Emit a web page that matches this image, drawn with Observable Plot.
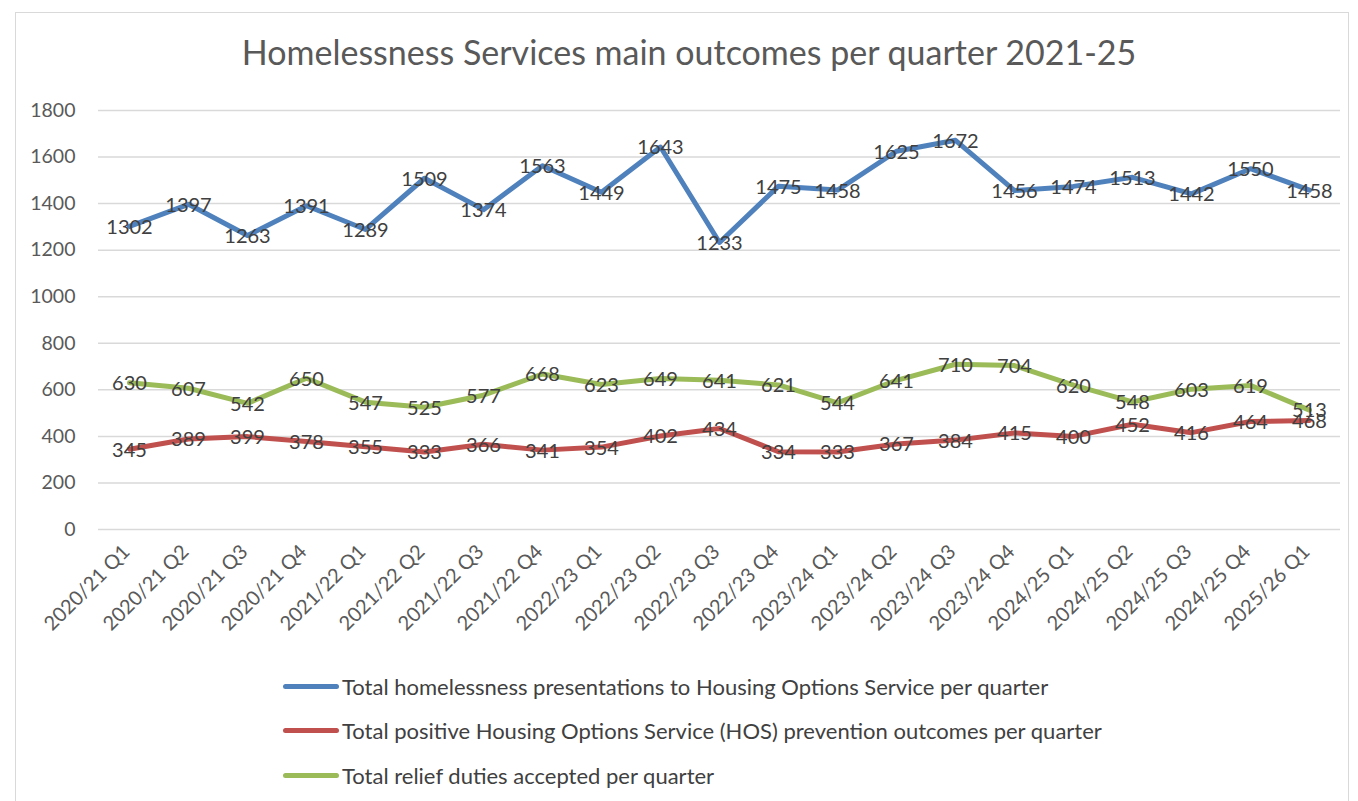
<!DOCTYPE html>
<html>
<head>
<meta charset="utf-8">
<script src="https://cdn.jsdelivr.net/npm/d3@7"></script>
<script src="https://cdn.jsdelivr.net/npm/@observablehq/plot@0.6"></script>
<style>
  html, body { margin: 0; padding: 0; background: #fff; }
  body { width: 1358px; height: 801px; position: relative; overflow: hidden; font-family: Lato, "Open Sans", sans-serif; }
  #frame { position: absolute; left: 15px; top: 12px; width: 1334px; height: 800px; border: 1px solid #d9d9d9; box-sizing: border-box; }
  #title { position: absolute; left: 0; top: 32px; width: 1378px; text-align: center; font-size: 34px; color: #595959; line-height: 40px; }
  #chart { position: absolute; left: 0; top: 85px; }
  #legend { position: absolute; left: 283px; top: 664px; }
  .item { display: flex; align-items: center; height: 44.5px; font-size: 22px; color: #404040; }
  .sw { width: 56px; height: 5px; border-radius: 3px; margin-right: 3px; }
</style>
</head>
<body>
<div id="frame"></div>
<div id="title">Homelessness Services main outcomes per quarter 2021-25</div>
<div id="chart"></div>
<div id="legend"></div>
<script>
const quarters = ["2020/21 Q1","2020/21 Q2","2020/21 Q3","2020/21 Q4","2021/22 Q1","2021/22 Q2","2021/22 Q3","2021/22 Q4","2022/23 Q1","2022/23 Q2","2022/23 Q3","2022/23 Q4","2023/24 Q1","2023/24 Q2","2023/24 Q3","2023/24 Q4","2024/25 Q1","2024/25 Q2","2024/25 Q3","2024/25 Q4","2025/26 Q1"];
const presentations = [1302,1397,1263,1391,1289,1509,1374,1563,1449,1643,1233,1475,1458,1625,1672,1456,1474,1513,1442,1550,1458];
const prevention = [345,389,399,378,355,333,366,341,354,402,434,334,333,367,384,415,400,452,416,464,468];
const relief = [630,607,542,650,547,525,577,668,623,649,641,621,544,641,710,704,620,548,603,619,513];
const seriesNames = [
  "Total homelessness presentations to Housing Options Service per quarter",
  "Total positive Housing Options Service (HOS) prevention outcomes per quarter",
  "Total relief duties accepted per quarter"
];
const seriesColors = ["#4F81BD", "#C0504D", "#9BBB59"];
const yTicks = [0,200,400,600,800,1000,1200,1400,1600,1800];

const seriesValues = [presentations, prevention, relief];
const rows = [];
seriesValues.forEach((vals, si) => vals.forEach((v, i) => rows.push({quarter: quarters[i], value: v, series: seriesNames[si]})));

const chart = Plot.plot({
  width: 1358,
  height: 570,
  marginLeft: 98,
  marginRight: 18,
  marginTop: 25,
  marginBottom: 126,
  style: {fontFamily: "Lato, 'Open Sans', sans-serif", fontSize: "19px", color: "#595959", background: "transparent"},
  x: {type: "point", domain: quarters, padding: 0.5, label: null},
  y: {domain: [0, 1800], label: null},
  color: {domain: seriesNames, range: seriesColors},
  marks: [
    Plot.gridY(yTicks, {stroke: "#d9d9d9", strokeOpacity: 1, strokeWidth: 1.5}),
    Plot.axisY(yTicks, {tickSize: 0, tickPadding: 23, fill: "#595959", fontSize: 19.5, tickFormat: d => String(d), label: null}),
    Plot.axisX({tickSize: 0, tickPadding: 19, dx: -3, tickRotate: -45, fill: "#595959", fontSize: 20, label: null}),
    Plot.line(rows, {x: "quarter", y: "value", z: "series", stroke: "series", strokeWidth: 5, strokeLinejoin: "round", strokeLinecap: "round"}),
    Plot.text(rows, {x: "quarter", y: "value", text: d => String(d.value), fill: "#404040", fontSize: 20, dy: 1})
  ]
});
document.getElementById("chart").appendChild(chart);

const legend = document.getElementById("legend");
seriesNames.forEach((name, i) => {
  const item = document.createElement("div");
  item.className = "item";
  const sw = document.createElement("div");
  sw.className = "sw";
  sw.style.background = seriesColors[i];
  const label = document.createElement("span");
  label.textContent = name;
  item.appendChild(sw);
  item.appendChild(label);
  legend.appendChild(item);
});
</script>
</body>
</html>
